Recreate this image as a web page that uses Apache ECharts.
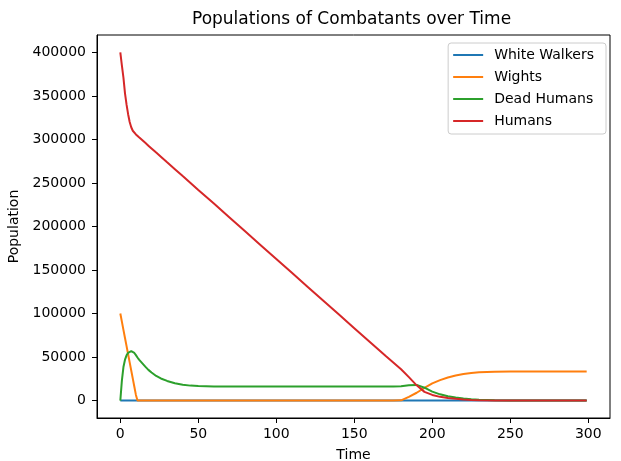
<!DOCTYPE html>
<html>
<head>
<meta charset="utf-8">
<script src="https://cdn.jsdelivr.net/npm/echarts@6/dist/echarts.min.js"></script>
<style>
html, body { margin: 0; padding: 0; background: #fff; }
#chart { width: 621px; height: 461px; }
</style>
</head>
<body>
<div id="chart"></div>
<script>
// time steps (irregular, denser where the curves bend)
var times = [0,1,2,3,4,5,6,7,8,9,10,11,12,14,16,18,20,23,26,30,35,40,45,50,
  60,70,80,90,100,110,120,130,140,150,160,170,175,180,185,190,195,200,205,210,
  215,220,225,230,240,250,260,270,280,290,299];

var whiteWalkers = [0,0,0,0,0,0,0,0,0,0,0,0,0,0,0,0,0,0,0,0,0,0,0,0,
  0,0,0,0,0,0,0,0,0,0,0,0,0,0,0,0,0,0,0,0,
  0,0,0,0,0,0,0,0,0,0,0];

var wights = [100000,90650,81300,71950,62600,53250,43900,34550,25200,15850,6500,0,0,0,0,0,0,0,0,0,0,0,0,0,
  0,0,0,0,0,0,0,0,0,0,0,0,0,300,4300,9000,14500,19800,23500,26500,
  28800,30500,31700,32500,33200,33400,33500,33500,33500,33500,33500];

var deadHumans = [0,23000,38500,47000,52000,54800,56200,56700,56300,54700,52200,49500,47000,43000,39000,35300,32300,28300,25400,22600,20000,18300,17200,16700,
  16300,16100,16100,16100,16100,16100,16100,16100,16100,16100,16100,16100,16200,16600,17600,18000,14800,10300,7200,5000,
  3500,2400,1600,1000,400,100,0,0,0,0,0];

var humans = [400000,385000,371000,353000,340000,329000,320000,314000,310000,307800,305800,304000,302500,299300,296100,292900,289700,284900,280200,273800,265900,257900,250000,242000,
  226300,210400,194500,178600,162700,146800,130900,115000,99100,83200,67300,51400,43800,36000,27000,17500,10000,6500,4300,2900,
  2000,1300,700,400,100,0,0,0,0,0,0];

var xTicks = [0,50,100,150,200,250,300];
var yTicks = [0,50000,100000,150000,200000,250000,300000,350000,400000];

var names = ['White Walkers','Wights','Dead Humans','Humans'];
var colors = ['#1f77b4','#ff7f0e','#2ca02c','#d62728'];
var values = [whiteWalkers, wights, deadHumans, humans];

function pairs(vals) {
  return times.map(function (t, i) { return [t, vals[i]]; });
}

var font = 'DejaVu Sans';
var chart = echarts.init(document.getElementById('chart'));
chart.setOption({
  animation: false,
  backgroundColor: '#fff',
  textStyle: { fontFamily: font },
  title: {
    text: 'Populations of Combatants over Time',
    left: 192,
    top: 11,
    padding: 0,
    textStyle: { fontFamily: font, fontSize: 17, fontWeight: 'normal', color: '#000' }
  },
  legend: {
    data: names,
    orient: 'vertical',
    right: 15,
    top: 43,
    padding: [5, 12, 6, 5],
    itemWidth: 30,
    itemHeight: 14,
    itemGap: 8,
    // thin line icon, padded so it is not stretched to the full item height
    icon: 'path://M0,0M0,6h30v2h-30zM30,14',
    borderColor: '#cccccc',
    borderWidth: 1,
    borderRadius: 3,
    backgroundColor: 'rgba(255,255,255,0.8)',
    textStyle: { fontFamily: font, fontSize: 14, color: '#000', lineHeight: 14, padding: [0, 0, 0, 6] }
  },
  grid: {
    left: 97, right: 11, top: 35, bottom: 43,
    outerBoundsMode: 'none',
    containLabel: false,
    show: true, borderColor: '#000', borderWidth: 1, backgroundColor: 'transparent'
  },
  xAxis: {
    type: 'value',
    min: -14.95,
    max: 313.95,
    name: 'Time',
    nameLocation: 'middle',
    nameGap: 30,
    nameTextStyle: { fontFamily: font, fontSize: 14, color: '#000' },
    splitLine: { show: false },
    axisLine: { show: true, onZero: false, lineStyle: { color: '#000', width: 1 } },
    axisTick: { show: true, length: 5, customValues: xTicks, lineStyle: { color: '#000' } },
    axisLabel: { customValues: xTicks, margin: 9, fontFamily: font, fontSize: 14, color: '#000' }
  },
  yAxis: {
    type: 'value',
    min: -20000,
    max: 420000,
    name: 'Population',
    nameLocation: 'middle',
    nameGap: 66,
    nameTextStyle: { fontFamily: font, fontSize: 14, color: '#000' },
    splitLine: { show: false },
    axisLine: { show: true, onZero: false, lineStyle: { color: '#000', width: 1 } },
    axisTick: { show: true, length: 5, customValues: yTicks, lineStyle: { color: '#000' } },
    axisLabel: {
      customValues: yTicks, margin: 11, fontFamily: font, fontSize: 14, color: '#000',
      formatter: function (v) { return String(v); }
    }
  },
  series: names.map(function (n, i) {
    return {
      name: n,
      type: 'line',
      data: pairs(values[i]),
      symbol: 'none',
      showSymbol: false,
      smooth: false,
      color: colors[i],
      lineStyle: { color: colors[i], width: 2 }
    };
  })
});
</script>
</body>
</html>
